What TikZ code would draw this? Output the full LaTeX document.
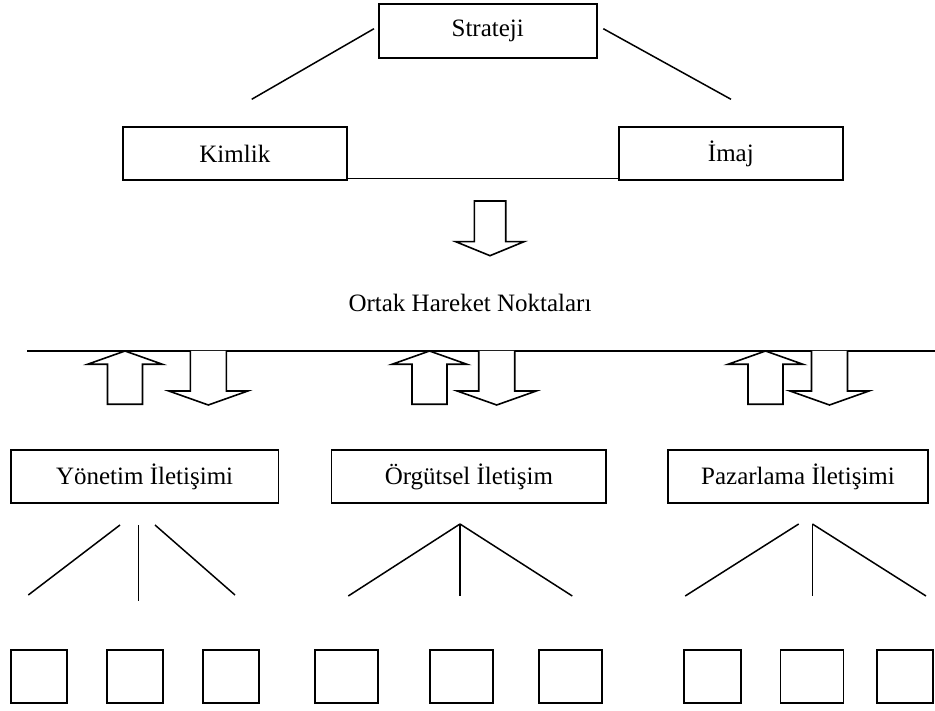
\documentclass[tikz,border=0pt]{standalone}
\usepackage{fontspec}
\setmainfont{Liberation Serif}
\begin{document}
\begin{tikzpicture}[x=1pt,y=-1pt,
  box/.style={draw, line width=1.7pt, rectangle, inner sep=0pt, font=\fontsize{25}{29}\selectfont},
  leaf/.style={draw, line width=1.7pt, rectangle, inner sep=0pt, minimum height=53pt},
  conn/.style={line width=1.5pt},
  blockarrow/.style={draw, line width=1.6pt, fill=white, line join=miter},
  lbl/.style={font=\fontsize{25}{29}\selectfont, inner sep=0pt},
  uparrow/.pic={\draw[blockarrow] (0,0) -- (37.5,13.3) -- (17.5,13.3) -- (17.5,53.3) -- (-17.5,53.3) -- (-17.5,13.3) -- (-37.5,13.3) -- cycle;},
  downarrow/.pic={\draw[blockarrow] (-18,0) -- (-18,40) -- (-39.5,40) -- (0,54) -- (39.5,40) -- (18,40) -- (18,0);}
]
\useasboundingbox (0,0) rectangle (935,711);

% top level
\node[box, minimum width=218pt, minimum height=53.7pt] (strateji) at (487.7,30.85) {Strateji};
\node[box, minimum width=224.3pt, minimum height=52.7pt] (kimlik) at (234.85,153.65) {Kimlik};
\node[box, minimum width=223.7pt, minimum height=52.7pt] (imaj) at (730.85,153.65) {İmaj};

\coordinate (sl1) at (251.7,99.3);
\coordinate (sl2) at (374,28.7);
\coordinate (sr1) at (603.3,28.7);
\coordinate (sr2) at (731,99.3);
\draw[conn] (sl1) -- (sl2);
\draw[conn] (sr1) -- (sr2);
\draw[conn] ([yshift=2.3pt]kimlik.south east) -- ([yshift=2.3pt]imaj.south west);

% central down arrow
\draw[blockarrow] (474.3,201) -- (474.3,241.7) -- (455.7,241.7) -- (490,255.7) -- (524,241.7) -- (505.7,241.7) -- (505.7,201) -- cycle;

\node[lbl] (ortak) at (470,303) {Ortak Hareket Noktaları};

% horizontal line
\coordinate (hl1) at (27.3,351);
\coordinate (hl2) at (935,351);
\draw[line width=1.7pt] (hl1) -- (hl2);

% arrow pairs
\pic at (125,351) {uparrow};
\pic at (208.3,351) {downarrow};
\pic at (429.5,351) {uparrow};
\pic at (496.7,351) {downarrow};
\pic at (765.5,351) {uparrow};
\pic at (829.5,351) {downarrow};

% second level
\node[box, minimum width=267.7pt, minimum height=53pt] (yon) at (144.6,476.5) {Yönetim İletişimi};
\node[box, minimum width=274.8pt, minimum height=53pt] (org) at (468.9,476.5) {Örgütsel İletişim};
\node[box, minimum width=260pt, minimum height=53pt] (paz) at (798,476.5) {Pazarlama İletişimi};

% fan lines group 1
\coordinate (a1t) at (120,525);   \coordinate (a1b) at (28.3,595);
\coordinate (a2t) at (138.7,525); \coordinate (a2b) at (138.7,601);
\coordinate (a3t) at (155,525);   \coordinate (a3b) at (235,595);
\draw[conn] (a1t) -- (a1b);
\draw[conn] (a2t) -- (a2b);
\draw[conn] (a3t) -- (a3b);

% fan lines group 2
\coordinate (b0) at (460,524);
\coordinate (b1) at (348.3,596);
\coordinate (b2) at (460,596);
\coordinate (b3) at (572.3,596);
\draw[conn] (b0) -- (b1);
\draw[conn] (b0) -- (b2);
\draw[conn] (b0) -- (b3);

% fan lines group 3
\coordinate (c1t) at (798.7,524);
\coordinate (c0) at (812.4,524);
\coordinate (c1) at (685.2,596);
\coordinate (c2) at (812.4,596);
\coordinate (c3) at (926,596);
\draw[conn] (c1t) -- (c1);
\draw[conn] (c0) -- (c2);
\draw[conn] (c0) -- (c3);

% leaf boxes
\node[leaf, minimum width=56.6pt] (l1) at (39,676.5) {};
\node[leaf, minimum width=56.6pt] (l2) at (135,676.5) {};
\node[leaf, minimum width=56.6pt] (l3) at (231,676.5) {};
\node[leaf, minimum width=63pt] (l4) at (346.7,676.5) {};
\node[leaf, minimum width=63pt] (l5) at (461.5,676.5) {};
\node[leaf, minimum width=63pt] (l6) at (570.8,676.5) {};
\node[leaf, minimum width=57pt] (l7) at (712.4,676.5) {};
\node[leaf, minimum width=63pt] (l8) at (812,676.5) {};
\node[leaf, minimum width=56pt] (l9) at (905,676.5) {};
\end{tikzpicture}
\end{document}
